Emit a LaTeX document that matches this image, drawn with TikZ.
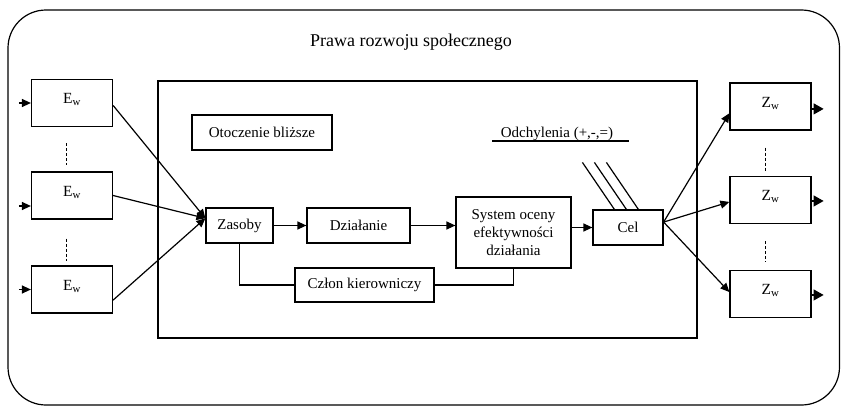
\documentclass[tikz,border=0pt]{standalone}
\usepackage{fontspec}
\setmainfont{Liberation Serif}
\usetikzlibrary{arrows.meta,calc}

\begin{document}
\begin{tikzpicture}[x=1pt,y=-1pt,
  line width=1.2pt,
  txt/.style={font=\fontsize{15}{18}\selectfont},
  box/.style={draw,txt,inner sep=0pt,align=center},
  iobox/.style={draw,inner sep=0pt,minimum width=81pt,minimum height=47pt,
    font=\fontsize{15.5}{17}\selectfont,text height=10pt,text depth=9pt},
  conn/.style={line width=1.2pt},
  arr/.style={conn,-{Triangle[length=9pt,width=8pt]}},
  edge arr/.style={conn,-{Triangle[length=10pt,width=11pt]}},
  gap/.style={line width=1pt,dash pattern=on 3pt off 2pt}]
\useasboundingbox (0,0) rectangle (841,407);

% outer frame and inner system frame
\draw[conn,rounded corners=38pt] (8,10) rectangle (839.5,405);
\draw[conn] (158,81) rectangle (697,338);

\node[font=\fontsize{18}{20}\selectfont] (title) at (411,42) {Prawa rozwoju społecznego};

% inputs
\node[iobox] (e1) at (72,103)   {E\textsubscript{w}};
\node[iobox] (e2) at (72,195.5) {E\textsubscript{w}};
\node[iobox] (e3) at (72,289.5) {E\textsubscript{w}};

% outputs
\node[iobox] (z1) at (770.5,106.5) {Z\textsubscript{w}};
\node[iobox] (z2) at (770.5,200)   {Z\textsubscript{w}};
\node[iobox] (z3) at (770.5,294)   {Z\textsubscript{w}};

% inner blocks
\node[box,minimum width=140pt,minimum height=35pt] (oto) at (262,132.5) {Otoczenie bliższe};
\node[box,minimum width=67pt,minimum height=35pt]  (zas) at (239.5,225.5) {Zasoby};
\node[box,minimum width=103pt,minimum height=35pt] (dz)  at (358.5,225.5) {Działanie};
\node[box,minimum width=115pt,minimum height=71pt] (sys) at (513.5,232.5) {System oceny\\efektywności\\działania};
\node[box,minimum width=70pt,minimum height=35pt]  (cel) at (628,227.5) {Cel};
\node[box,minimum width=139pt,minimum height=34pt] (czl) at (364.5,285) {Człon kierowniczy};

\node[txt,anchor=base] (odch) at (557,137) {Odchylenia (+,-,=)};
\draw[conn] ($(odch.base)+(-65,4)$) -- ($(odch.base)+(72,4)$);

% entry points on the left of each input box
\coordinate (in1) at ($(e1.west)+(-12,0)$);
\coordinate (in2) at ($(e2.west)+(-12,10.5)$);
\coordinate (in3) at ($(e3.west)+(-12,0)$);
\draw[arr] (in1) -- (e1.west);
\draw[arr] (in2) -- (in2 -| e2.west);
\draw[arr] (in3) -- (e3.west);

% inputs converge on Zasoby
\coordinate (zin) at ($(zas.north west)!0.3!(zas.south west)$);
\draw[arr] ($(e1.north east)!0.55!(e1.south east)$) -- (zin);
\draw[arr] (e2.east) -- (zin);
\draw[arr] ($(e3.north east)!0.72!(e3.south east)$) -- (zin);

% main flow
\draw[arr] (zas.east) -- (dz.west);
\draw[arr] (dz.east) -- (dz.east -| sys.west);
\draw[arr] (sys.east |- cel.west) -- (cel.west);

% control loop
\draw[conn] (zas.south) |- (czl.west);
\draw[conn] (czl.east) -| (sys.south);

% deviations entering Cel
\foreach \d in {22,34,46}{
  \draw[conn] ($(cel.north west)+(\d,0)+(-32,-47)$) -- ($(cel.north west)+(\d,0)$);
}

% Cel distributes to outputs
\coordinate (cout) at ($(cel.north east)!0.35!(cel.south east)$);
\draw[arr] (cout) -- ($(z1.north west)!0.64!(z1.south west)$);
\draw[arr] (cout) -- ($(z2.north west)!0.54!(z2.south west)$);
\draw[arr] (cout) -- ($(z3.north west)!0.46!(z3.south west)$);

% output arrows
\draw[edge arr] ($(z1.north east)!0.55!(z1.south east)$) -- ++(12,0);
\draw[edge arr] ($(z2.north east)!0.52!(z2.south east)$) -- ++(12,0);
\draw[edge arr] ($(z3.north east)!0.52!(z3.south east)$) -- ++(12,0);

% ellipsis separators
\draw[gap] ($(e1.south)+(-6,16)$) -- ($(e2.north)+(-6,-6)$);
\draw[gap] ($(e2.south)+(-6,19)$) -- ($(e3.north)+(-6,-4)$);
\draw[gap] ($(z1.south)+(-5.5,17)$) -- ($(z2.north)+(-5.5,-4.5)$);
\draw[gap] ($(z2.south)+(-5.5,17)$) -- ($(z3.north)+(-5.5,-7.5)$);
\end{tikzpicture}
\end{document}
